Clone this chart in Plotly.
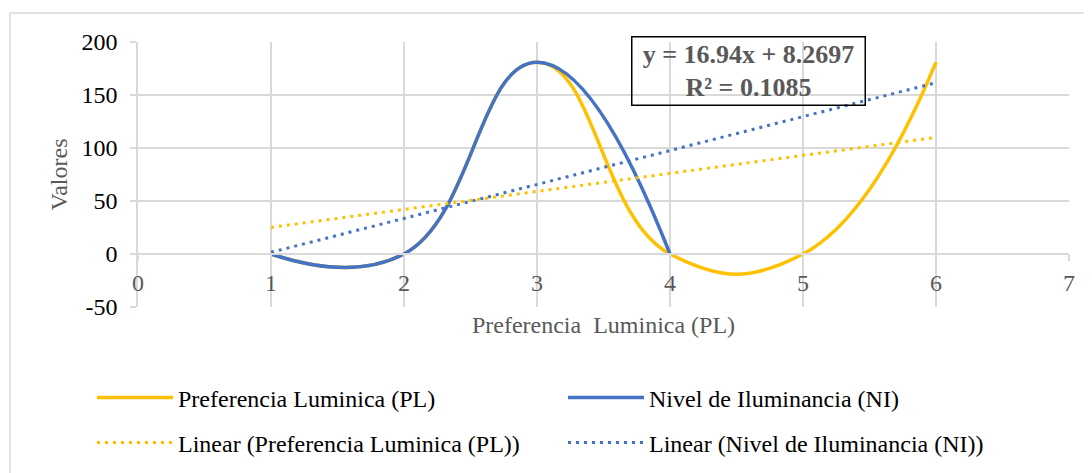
import plotly.graph_objects as go

# ---- data ----
pl_x = [1, 2, 3, 4, 5, 6]
pl_y = [0, 0, 181, 0, 0, 181]
ni_x = [1, 2, 3, 4]
ni_y = [0, 0, 181, 0]
trend_x = [1, 6]
trend_pl = [25.1, 110.0]
trend_ni = [1.6, 161.6]
x_ticks = [0, 1, 2, 3, 4, 5, 6, 7]
y_ticks = [-50, 0, 50, 100, 150, 200]
y_tick_text = ["-50", "0", "50", "100", "150", "200"]
eq_text = "y = 16.94x + 8.2697<br>R² = 0.1085"

YELLOW = "#FFC000"
BLUE = "#4472C4"
GRID = "#D9D9D9"
FONT = "Liberation Serif, Times New Roman, serif"

fig = go.Figure()
fig.add_trace(go.Scatter(x=pl_x, y=pl_y, mode="lines", name="Preferencia Luminica (PL)",
                         line=dict(color=YELLOW, width=3.5, shape="spline", smoothing=1.3),
                         legend="legend"))
fig.add_trace(go.Scatter(x=ni_x, y=ni_y, mode="lines", name="Nivel de Iluminancia (NI)",
                         line=dict(color=BLUE, width=3.5, shape="spline", smoothing=1.3),
                         legend="legend"))
fig.add_trace(go.Scatter(x=trend_x, y=trend_pl, mode="lines", name="Linear (Preferencia Luminica (PL))",
                         line=dict(color=YELLOW, width=3, dash="3px,5px"), legend="legend2"))
fig.add_trace(go.Scatter(x=trend_x, y=trend_ni, mode="lines", name="Linear (Nivel de Iluminancia (NI))",
                         line=dict(color=BLUE, width=3, dash="3px,5px"), legend="legend2"))

# page offset (body margin) and target plot area in screenshot pixels
OFF = 8
L, R, T, B = 138 - OFF, 1069 - OFF, 42 - OFF, 307 - OFF
W, H = R - L, B - T
def px(xp):
    return (xp - OFF - L) / W
def py(yp):
    return (B - (yp - OFF)) / H

legend_common = dict(orientation="h", font=dict(family=FONT, size=24, color="#000000"),
                     entrywidth=380, entrywidthmode="pixels", xanchor="left", yanchor="middle",
                     bgcolor="rgba(0,0,0,0)", itemwidth=76, traceorder="normal")

fig.update_layout(
    width=1092, height=473,
    margin=dict(l=L, r=1092 - R, t=T, b=473 - B, autoexpand=False),
    paper_bgcolor="white", plot_bgcolor="white",
    font=dict(family=FONT, size=24, color="#595959"),
    showlegend=True,
    legend=dict(x=px(92), y=py(398), **legend_common),
    legend2=dict(x=px(92), y=py(443), **legend_common),
    xaxis=dict(range=[0, 7], tickvals=x_ticks, showgrid=True, gridcolor=GRID, gridwidth=1.5,
               showline=True, linecolor=GRID, linewidth=1.5, ticks="outside", ticklen=6,
               tickcolor=GRID, tickwidth=1.5, zeroline=False, anchor="free", position=0.2,
               tickfont=dict(family=FONT, size=24, color="#595959"), ticklabelstandoff=1,
               automargin=False,
               title=dict(text="Preferencia  Luminica (PL)", standoff=21,
                          font=dict(family=FONT, size=24, color="#595959"))),
    yaxis=dict(range=[-50, 200], tickvals=y_ticks, ticktext=y_tick_text, showgrid=True,
               gridcolor=GRID, gridwidth=1.5,
               showline=True, linecolor=GRID, linewidth=1.5, ticks="outside", ticklen=6,
               tickcolor=GRID, tickwidth=1.5, zeroline=True, zerolinecolor=GRID, zerolinewidth=1.5,
               tickfont=dict(family=FONT, size=24, color="#000000"), ticklabelstandoff=8,
               automargin=False,
               title=dict(text="Valores", standoff=7,
                          font=dict(family=FONT, size=24, color="#595959"))),
)

# outer chart frame
fig.add_shape(type="rect", xref="paper", yref="paper",
              x0=px(10), x1=px(1110), y0=py(490), y1=py(13),
              line=dict(color=GRID, width=1.5), layer="below")

# trendline equation label
fig.add_annotation(xref="paper", yref="paper", x=px(748), y=py(71.5),
                   text="<b>" + eq_text + "</b>", showarrow=False, align="center",
                   font=dict(family=FONT, size=26, color="#595959"),
                   width=228, height=63,
                   bordercolor="#000000", borderwidth=1.5, borderpad=2,
                   xanchor="center", yanchor="middle")

fig.write_html("out.html")
